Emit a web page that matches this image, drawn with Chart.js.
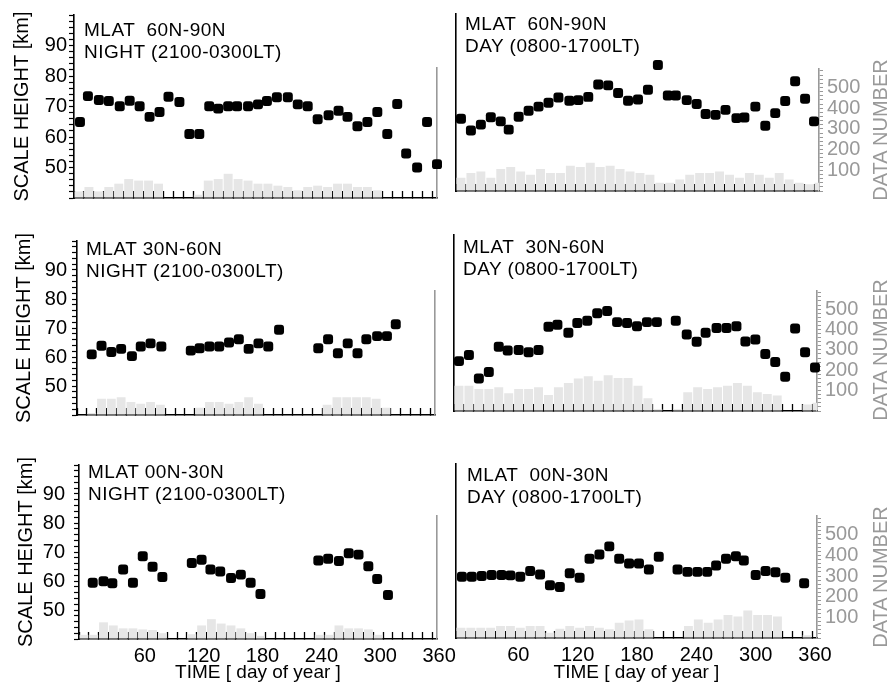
<!DOCTYPE html>
<html lang="en">
<head>
<meta charset="UTF-8">
<title>Scale height by season</title>
<style>
    body { margin: 0; background: #fff; font-family: Arial, "Liberation Sans", sans-serif; }
    #page { position: relative; width: 891px; height: 686px; overflow: hidden; background: #fff; }
    .panel { position: absolute; }
    .label { position: absolute; font-size: 19px; line-height: 22px; letter-spacing: 0.5px; color: #000; white-space: pre; }
    .dn { position: absolute; width: 160px; height: 22px; line-height: 22px; font-size: 20px; color: #999;
          text-align: center; white-space: nowrap; transform: rotate(-90deg); }
</style>
</head>
<body>
<div id="page">
    <div class="panel" style="left:0px;top:1px;width:470px;height:211px"><canvas id="cA"></canvas></div>
    <div class="panel" style="left:440px;top:-2px;width:451px;height:209px"><canvas id="cB"></canvas></div>
    <div class="panel" style="left:0px;top:224px;width:470px;height:208px"><canvas id="cC"></canvas></div>
    <div class="panel" style="left:440px;top:219px;width:451px;height:208px"><canvas id="cD"></canvas></div>
    <div class="panel" style="left:0px;top:444px;width:470px;height:242px"><canvas id="cE"></canvas></div>
    <div class="panel" style="left:440px;top:448px;width:451px;height:238px"><canvas id="cF"></canvas></div>

    <div class="label" style="left:84px;top:19px">MLAT  60N-90N
NIGHT (2100-0300LT)</div>
    <div class="label" style="left:465px;top:13px">MLAT  60N-90N
DAY (0800-1700LT)</div>
    <div class="label" style="left:86px;top:238px">MLAT 30N-60N
NIGHT (2100-0300LT)</div>
    <div class="label" style="left:463px;top:236px">MLAT  30N-60N
DAY (0800-1700LT)</div>
    <div class="label" style="left:88px;top:461px">MLAT 00N-30N
NIGHT (2100-0300LT)</div>
    <div class="label" style="left:467px;top:464px">MLAT  00N-30N
DAY (0800-1700LT)</div>

    <div class="dn" style="left:800px;top:119px">DATA NUMBER</div>
    <div class="dn" style="left:800px;top:339px">DATA NUMBER</div>
    <div class="dn" style="left:800px;top:566px">DATA NUMBER</div>
</div>

<script src="https://cdn.jsdelivr.net/npm/chart.js"></script>
<script>
    // 10-day bins for the data number bars
    const binDays = [5,15,25,35,45,55,65,75,85,95,105,115,125,135,145,155,165,175,185,195,
                     205,215,225,235,245,255,265,275,285,295,305,315,325,335,345,355,365];

    // MLAT 60N-90N night
    const daysA = [6,14,25,35,46,56,66,76,86,95,106,116,126,136,145,155,164,175,185,194,204,215,225,235,245,256,266,275,285,295,305,315,325,334,345,355,365];
    const heightA = [64.9,73.4,72.1,71.8,70.1,71.9,70.1,66.6,68.2,73.2,71.5,61.0,61.0,70.1,69.3,70.1,70.1,70.1,70.7,71.8,73.0,73.0,70.7,70.1,65.8,67.1,68.6,66.6,63.5,64.9,68.2,61.0,70.8,54.6,50.0,64.9,51.1];
    const countA = [30,50,30,50,65,86,79,79,65,0,0,0,15,79,86,110,86,79,65,65,56,50,35,50,56,50,65,65,50,50,35,0,0,0,0,0,0];

    // MLAT 60N-90N day
    const daysB = [5,15,25,35,45,53,63,73,83,93,103,114,123,133,143,153,163,173,183,193,203,213,221,232,242,251,261,271,282,290,301,311,321,331,341,351,360];
    const heightB = [64.5,60.5,62.5,65.0,63.6,60.8,65.2,67.2,68.6,69.9,71.7,70.6,70.8,71.9,76.1,75.8,73.2,70.6,71.0,74.3,82.7,72.4,72.4,70.8,69.5,66.1,65.8,67.5,64.7,64.9,68.6,62.1,66.4,70.5,77.2,71.3,63.6];
    const countB = [64,87,94,64,106,116,94,78,106,87,87,122,116,137,116,122,106,94,87,78,40,40,55,78,87,87,94,78,64,87,78,64,87,55,40,33,40];

    // MLAT 30N-60N night
    const daysC = [15,25,35,45,56,65,75,86,116,125,135,145,155,165,175,185,195,206,246,256,266,276,286,295,306,316,325];
    const heightC = [60.9,63.9,61.7,62.8,60.3,63.6,64.7,63.6,62.2,63.0,63.6,63.6,65.0,66.1,62.8,64.7,63.6,69.4,63.0,66.1,61.3,64.7,61.3,66.1,67.2,67.2,71.3];
    const countC = [0,10,77,77,85,62,54,62,49,0,0,0,34,62,62,54,62,85,54,0,0,0,0,0,0,49,85,85,85,85,77,34,0,0,0,0,0];

    // MLAT 30N-60N day
    const daysD = [5,15,25,35,45,54,65,75,85,95,104,115,124,134,144,154,164,174,184,194,204,223,234,244,253,264,274,284,293,303,313,323,333,343,353,363];
    const heightD = [57.0,59.1,51.1,53.3,61.9,60.6,60.8,60.0,60.8,68.7,69.4,66.7,70.0,70.8,73.3,74.1,70.3,70.0,68.9,70.3,70.3,70.8,66.1,63.6,66.7,68.3,68.3,68.9,63.7,64.4,59.4,56.7,51.7,68.1,60.0,54.8];
    const countD = [124,124,108,108,116,87,108,108,116,79,116,138,159,170,148,175,162,162,124,63,8,0,8,92,116,108,116,124,138,124,92,84,76,0,0,32,40];

    // MLAT 00N-30N night
    const daysE = [14,25,34,45,55,65,75,85,115,125,134,144,155,165,175,185,244,254,265,275,285,295,304,315];
    const heightE = [59.4,59.9,59.2,64.0,59.4,68.5,64.9,61.4,66.2,67.3,64.0,63.3,61.0,62.2,59.4,55.5,67.1,67.7,66.9,69.6,69.1,65.1,60.7,55.2];
    const countE = [20,20,80,65,51,51,46,43,28,0,0,23,65,95,74,65,51,28,15,0,0,0,0,0,20,20,65,51,51,46,20,0,0,0,0,0,0];

    // MLAT 00N-30N day
    const daysF = [6,16,26,36,46,55,65,75,85,95,105,115,125,135,145,155,165,175,185,195,205,224,234,244,254,263,273,283,291,303,313,323,333,352];
    const heightF = [61.1,61.1,61.4,61.7,61.7,61.6,61.1,63.1,61.9,58.2,57.6,62.3,60.8,67.3,68.8,71.6,67.3,65.7,65.7,63.6,68.0,63.6,62.8,62.8,62.8,65.0,67.3,68.2,66.7,61.7,63.1,62.7,60.8,58.9];
    const countF = [50,50,50,50,58,58,50,58,58,26,45,58,50,58,50,42,74,85,90,42,0,0,0,58,90,74,90,112,104,133,112,112,104,0,0,13,0];

    Chart.defaults.font.family = 'Arial, "Liberation Sans", sans-serif';

    function makePanel(id, days, heights, counts, p) {
        return new Chart(document.getElementById(id), {
            type: 'scatter',
            data: {
                datasets: [
                    {
                        type: 'scatter',
                        data: days.map((d, i) => ({ x: d, y: heights[i] })),
                        yAxisID: 'y',
                        pointStyle: 'rectRounded',
                        pointRadius: 5.8,
                        backgroundColor: '#000',
                        borderWidth: 0,
                        clip: false,
                        order: 1
                    },
                    {
                        type: 'bar',
                        data: binDays.map((d, i) => ({ x: d, y: counts[i] })),
                        yAxisID: 'y2',
                        backgroundColor: '#e6e6e6',
                        borderWidth: 0,
                        categoryPercentage: 0.9,
                        barPercentage: 1,
                        order: 2
                    }
                ]
            },
            options: {
                responsive: true,
                maintainAspectRatio: false,
                animation: false,
                layout: { padding: { left: 0, top: 14, right: p.pr, bottom: p.pb } },
                plugins: { legend: { display: false }, tooltip: { enabled: false } },
                scales: {
                    x: {
                        type: 'linear', min: 0, max: 365, offset: false,
                        afterFit: s => { s.height = p.xh; },
                        grid: { drawOnChartArea: false, offset: false, tickLength: -7, tickColor: '#000', tickWidth: 1.3 },
                        border: { color: '#000', width: 1.6 },
                        ticks: {
                            display: p.bottom, stepSize: 10, includeBounds: false, autoSkip: false, maxRotation: 0,
                            padding: 12, labelOffset: p.lo, color: '#000', font: { size: 20 },
                            callback: v => (v > 0 && v % 60 === 0) ? String(v) : ''
                        },
                        title: { display: p.bottom, text: 'TIME [ day of year ]', color: '#000', font: { size: 19 }, padding: 0 }
                    },
                    y: {
                        position: 'left', min: 40, max: 100,
                        afterFit: s => { s.width = p.yw; },
                        grid: { drawOnChartArea: false, drawTicks: p.left, tickLength: 5, tickColor: '#000', tickWidth: 1.2 },
                        border: { color: '#000', width: 1.6 },
                        ticks: {
                            display: p.left, stepSize: 2, autoSkip: false, padding: p.tp, color: '#000', font: { size: 20 },
                            callback: v => (v % 10 === 0 && v >= 50 && v <= 90) ? String(v) : ''
                        },
                        title: { display: p.left, text: 'SCALE HEIGHT [km]', color: '#000', font: { size: 20 }, padding: { top: p.ttl, bottom: 0 } }
                    },
                    y3: {
                        position: 'right', stack: 'dn', stackWeight: 1 - p.w, weight: 0,
                        afterFit: s => { s.width = p.rw; },
                        grid: { display: false, drawTicks: false },
                        border: { display: false },
                        ticks: { display: false }
                    },
                    y2: {
                        position: 'right', stack: 'dn', stackWeight: p.w, weight: 1, min: 0, max: 590,
                        afterFit: s => { s.width = p.rw; },
                        grid: { drawOnChartArea: false, drawTicks: !p.left, tickLength: 4, tickColor: '#999', tickWidth: 1 },
                        border: { color: '#999', width: 1.6 },
                        ticks: {
                            display: !p.left, stepSize: 20, includeBounds: false, autoSkip: false, padding: 4,
                            color: '#999', font: { size: 20 },
                            callback: v => (v % 100 === 0 && v > 0 && v <= 500) ? String(v) : ''
                        }
                    }
                }
            }
        });
    }

    makePanel('cA', daysA, heightA, countA, { left: true,  bottom: false, yw: 74, rw: 8,  pr: 25, pb: 12, xh: 2,  w: 0.71,  tp: 2, ttl: 10, lo: 7 });
    makePanel('cB', daysB, heightB, countB, { left: false, bottom: false, yw: 16, rw: 72, pr: 0,  pb: 12, xh: 2,  w: 0.69,  tp: 2, ttl: 0,  lo: 3 });
    makePanel('cC', daysC, heightC, countC, { left: true,  bottom: false, yw: 77, rw: 8,  pr: 27, pb: 12, xh: 2,  w: 0.711, tp: 5, ttl: 12, lo: 7 });
    makePanel('cD', daysD, heightD, countD, { left: false, bottom: false, yw: 14, rw: 74, pr: 0,  pb: 12, xh: 2,  w: 0.683, tp: 2, ttl: 0,  lo: 3 });
    makePanel('cE', daysE, heightE, countE, { left: true,  bottom: true,  yw: 79, rw: 8,  pr: 25, pb: 2,  xh: 45, w: 0.707, tp: 9, ttl: 14, lo: 7 });
    makePanel('cF', daysF, heightF, countF, { left: false, bottom: true,  yw: 16, rw: 74, pr: 0,  pb: 2,  xh: 46, w: 0.70,  tp: 2, ttl: 0,  lo: 3 });
</script>
</body>
</html>
